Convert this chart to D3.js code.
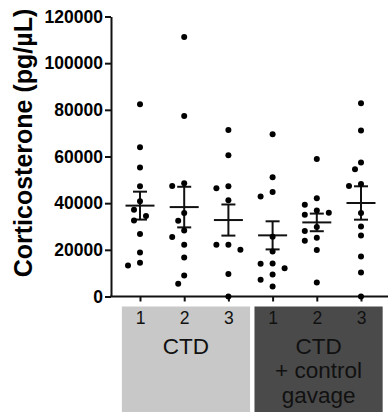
<!DOCTYPE html>
<html><head><meta charset="utf-8">
<script src="https://cdn.jsdelivr.net/npm/d3@7"></script>
<style>
body{margin:0;background:#fff;}
svg{display:block;font-family:"Liberation Sans",Arial,Helvetica,sans-serif;}
</style>
</head><body><div id="chart"></div>
<script>
// ---- data ----
const timepoints = ["1", "2", "3", "1", "2", "3"];
const conditionOf = [0, 0, 0, 1, 1, 1];
const conditionLabels = [["CTD"], ["CTD", "+ control", "gavage"]];
const ctd1 = [82400, 64000, 55250, 47200, 40800, 37200, 34500, 32600, 26750, 18900, 14450, 13300];
const ctd2 = [111200, 77400, 48500, 47350, 35760, 32500, 28300, 25460, 22200, 16740, 9000, 5450];
const ctd3 = [71400, 60500, 47200, 46400, 41200, 22200, 22200, 20000, 19750, 9600, 0];
const gav1 = [69550, 51100, 44800, 42900, 25600, 19300, 14170, 14000, 12150, 9450, 7150, 4300];
const gav2 = [58950, 42070, 39350, 36900, 35900, 35050, 29750, 28050, 25200, 23900, 19900, 6000];
const gav3 = [82850, 71130, 57400, 54500, 48200, 47350, 35760, 30050, 26190, 17170, 10300, 0];
const yTicks = [0, 20000, 40000, 60000, 80000, 100000, 120000];
const yLabel = "Corticosterone (pg/µL)";

const columns = [ctd1, ctd2, ctd3, gav1, gav2, gav3];

const W = 388, H = 412;
const svg = d3.select("#chart").append("svg").attr("width", W).attr("height", H);

const x = d3.scalePoint().domain(d3.range(columns.length)).range([140, 361]);
const y = d3.scaleLinear().domain([0, 120000]).range([296.5, 16.5]);
const step = x.step();
const axisLeftX = 111, axisY = y(0);

// condition boxes
const boxTop = 306.5;
conditionLabels.forEach((lines, c) => {
  const idx = d3.range(columns.length).filter(i => conditionOf[i] === c);
  const x0 = x(idx[0]) - 0.41 * step;
  const x1 = x(idx[idx.length - 1]) + 0.49 * step;
  svg.append("rect")
    .attr("x", x0).attr("y", boxTop)
    .attr("width", x1 - x0).attr("height", H - boxTop + 2)
    .attr("fill", c === 0 ? "#c8c8c8" : "#4a4a4a");
  svg.append("g").selectAll("text").data(lines).join("text")
    .attr("x", (x0 + x1) / 2)
    .attr("y", (d, i) => 353.5 + i * 24.5)
    .attr("text-anchor", "middle")
    .attr("font-size", 22.5)
    .attr("fill", "#111")
    .text(d => d);
});

// y axis
const gy = svg.append("g").attr("transform", `translate(${axisLeftX},0)`)
  .call(d3.axisLeft(y).tickValues(yTicks).tickSize(6).tickSizeOuter(0).tickPadding(2).tickFormat(d3.format("d")));
gy.select(".domain").attr("stroke", "#111").attr("stroke-width", 2);
gy.selectAll(".tick line").attr("stroke", "#111").attr("stroke-width", 2);
gy.selectAll(".tick text").attr("font-size", 17.5).attr("font-weight", "bold").attr("fill", "#000")
  .attr("font-family", '"Liberation Sans",Arial,sans-serif');

// x axis
const gx = svg.append("g").attr("transform", `translate(0,${axisY})`)
  .call(d3.axisBottom(x).tickSize(5).tickSizeOuter(0).tickPadding(10).tickFormat(i => timepoints[i]));
gx.select(".domain").remove();
gx.append("line").attr("x1", axisLeftX - 1).attr("x2", W).attr("y1", 0).attr("y2", 0)
  .attr("stroke", "#111").attr("stroke-width", 2);
gx.selectAll(".tick line").attr("stroke", "#111").attr("stroke-width", 2);
gx.selectAll(".tick text").attr("font-size", 17.5).attr("fill", "#111")
  .attr("font-family", '"Liberation Sans",Arial,sans-serif');

// y label
svg.append("text")
  .attr("transform", "translate(31.5,143) rotate(-90)")
  .attr("text-anchor", "middle")
  .attr("font-size", 25).attr("font-weight", "bold").attr("fill", "#000")
  .text(yLabel);

// mean ± SEM
columns.forEach((vals, i) => {
  const m = d3.mean(vals);
  const sem = d3.deviation(vals) / Math.sqrt(vals.length);
  const cx = x(i);
  const g = svg.append("g").attr("stroke", "#111").attr("stroke-width", 2);
  g.append("line").attr("x1", cx - 14.5).attr("x2", cx + 14.5).attr("y1", y(m)).attr("y2", y(m));
  g.append("line").attr("x1", cx).attr("x2", cx).attr("y1", y(m - sem)).attr("y2", y(m + sem));
  g.append("line").attr("x1", cx - 7).attr("x2", cx + 7).attr("y1", y(m - sem)).attr("y2", y(m - sem));
  g.append("line").attr("x1", cx - 7).attr("x2", cx + 7).attr("y1", y(m + sem)).attr("y2", y(m + sem));
});

// dots with simple dodge
const dotR = 3, minDist = 9, off = 6;
columns.forEach((vals, i) => {
  const placed = [];
  vals.slice().sort((a, b) => b - a).forEach(v => {
    const py = y(v);
    for (const k of [0, -1, 1, -2, 2, -3, 3]) {
      const px = x(i) + k * off;
      if (placed.every(p => Math.hypot(p[0] - px, p[1] - py) >= minDist)) { placed.push([px, py]); break; }
    }
  });
  svg.append("g").selectAll("circle").data(placed).join("circle")
    .attr("cx", d => d[0]).attr("cy", d => d[1]).attr("r", dotR).attr("fill", "#000");
});
</script>
</body></html>
